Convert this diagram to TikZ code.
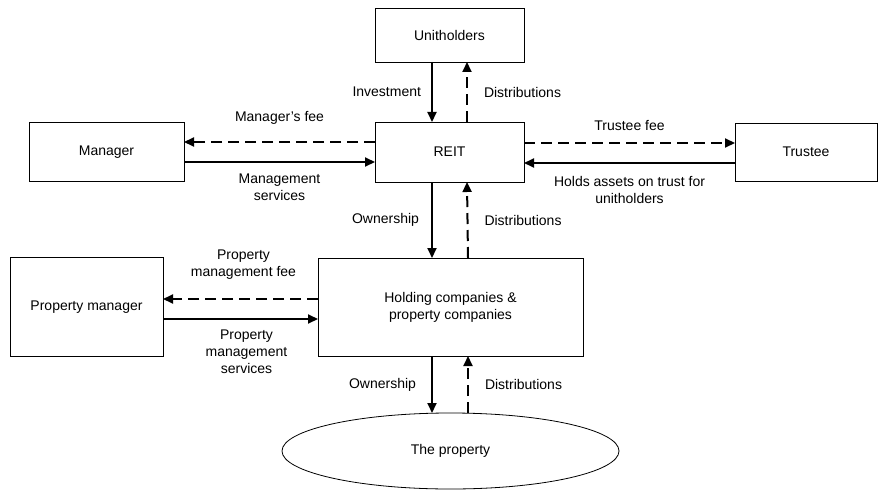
\documentclass[tikz,border=0pt]{standalone}
\usepackage{fontspec}
\setmainfont{Liberation Sans}
\usetikzlibrary{positioning,arrows.meta,shapes.geometric}

\tikzset{
  box/.style={shape=rectangle,draw=black,line width=0.8pt,inner sep=0pt,outer sep=0pt,align=center},
  flow/.style={-{Triangle[length=10pt,width=9pt]},line width=2pt},
  fee/.style={flow,dash pattern=on 11pt off 6pt},
  lbl/.style={inner sep=0pt,align=center}
}

\begin{document}
\begin{tikzpicture}[x=1pt,y=1pt,font=\fontsize{14}{17}\selectfont]
  \useasboundingbox (0,0) rectangle (880,491);

  \node[box,minimum width=149pt,minimum height=54pt] (unith) at (449.5,456) {Unitholders};
  \node[box,minimum width=149pt,minimum height=60pt] (reit) at (449.5,339) {REIT};
  \node[box,minimum width=155pt,minimum height=59pt] (mgr) at (106.5,339) {Manager};
  \node[box,minimum width=142pt,minimum height=58pt] (trustee) at (806,339) {Trustee};
  \node[box,minimum width=265pt,minimum height=98pt] (hold) at (450.5,184) {Holding companies \&\\property companies};
  \node[box,minimum width=153pt,minimum height=99pt] (pmgr) at (86.5,184) {Property manager};
  \node[shape=ellipse,draw=black,line width=0.8pt,inner sep=0pt,outer sep=0pt,
        minimum width=337pt,minimum height=76pt] (prop) at (450.5,40) {The property};

  % unitholders and REIT
  \path [flow] ([xshift=-17.5pt]unith.south) edge node[lbl,left=10pt] {Investment} ([xshift=-17.5pt]reit.north);
  \path [fee] ([xshift=17.5pt]reit.north) edge node[lbl,right=16pt] {Distributions} ([xshift=17.5pt]unith.south);

  % manager
  \path [fee] ([yshift=10pt]reit.west) edge node[lbl,above=17pt] {Manager's fee} ([yshift=10pt]mgr.east);
  \path [flow] ([yshift=-10pt]mgr.east) edge node[lbl,below=11pt] {Management\\services} ([yshift=-10pt]reit.west);

  % trustee
  \path [fee] ([yshift=9pt]reit.east) edge node[lbl,above=11pt] {Trustee fee} ([yshift=9pt]trustee.west);
  \path [flow] ([yshift=-11pt]trustee.west) edge node[lbl,below=12pt] {Holds assets on trust for\\unitholders} ([yshift=-11pt]reit.east);

  % REIT and holding companies
  \path [flow] ([xshift=-17.5pt]reit.south) edge node[lbl,left=12pt] {Ownership} ([xshift=-18.5pt]hold.north);
  \path [fee] ([xshift=17.5pt]hold.north) edge node[lbl,right=16pt] {Distributions} ([xshift=17.5pt]reit.south);

  % property manager
  \path [fee] ([yshift=8pt]hold.west) edge node[lbl,above=19pt,xshift=3pt] {Property\\management fee} ([yshift=8pt]pmgr.east);
  \path [flow] ([yshift=-12pt]pmgr.east) edge node[lbl,below=10pt,xshift=6pt] {Property\\management\\services} ([yshift=-12pt]hold.west);

  % the property
  \path [flow] ([xshift=-18.5pt]hold.south) edge node[lbl,left=15pt] {Ownership} ([xshift=-18.5pt]prop.north);
  \path [fee] ([xshift=17.5pt]prop.north) edge node[lbl,right=16pt] {Distributions} ([xshift=17.5pt]hold.south);
\end{tikzpicture}
\end{document}
